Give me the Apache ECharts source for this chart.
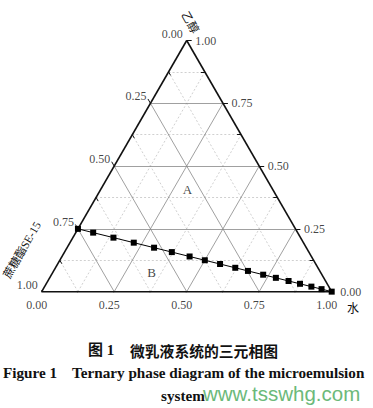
<!DOCTYPE html>
<html><head><meta charset="utf-8">
<script src="https://cdn.jsdelivr.net/npm/echarts@6/dist/echarts.min.js"></script>
<style>html,body{margin:0;padding:0;background:#fff}#c{width:373px;height:408px}</style>
</head><body><div id="c"></div>
<script>
// ---- data ----
const tickValues = [0, 0.25, 0.5, 0.75, 1];
const tickLabels = ['0.00', '0.25', '0.50', '0.75', '1.00'];
const minorValues = [0.125, 0.375, 0.625, 0.875];
// dilution line: water / ethanol / sucrose ester SE-15 mass fractions
const water      = [0, 0.06, 0.14, 0.22, 0.30, 0.37, 0.44, 0.50, 0.56, 0.62, 0.67, 0.73, 0.78, 0.83, 0.875, 0.92, 0.96, 1.0];
const ethanol    = [0.25, 0.235, 0.215, 0.195, 0.175, 0.1575, 0.14, 0.125, 0.11, 0.095, 0.0825, 0.0675, 0.055, 0.0425, 0.03125, 0.02, 0.01, 0];
const surfactant = [0.75, 0.705, 0.645, 0.585, 0.525, 0.4725, 0.42, 0.375, 0.33, 0.285, 0.2475, 0.2025, 0.165, 0.1275, 0.09375, 0.06, 0.03, 0];
const regionNames   = ['A', 'B'];
const regionWater   = [0.30, 0.34];
const regionEthanol = [0.405, 0.078];

// ---- ternary -> cartesian (water to the right, ethanol up) ----
const H = Math.sqrt(3) / 2;
const PX = 1 / 290; // data units per pixel
function tern(w, e) { return [w + e / 2, e * H]; }

const SERIF = "'Liberation Serif','Times New Roman',serif";
const CJK = "'Noto Sans CJK SC',sans-serif";

// grid lines
const gridMajor = [], gridMinor = [];
function addGrid(v, arr) {
  arr.push({ coords: [tern(v, 0), tern(v, 1 - v)] });        // const water
  arr.push({ coords: [tern(0, v), tern(1 - v, v)] });        // const ethanol
  arr.push({ coords: [tern(1 - v, 0), tern(0, 1 - v)] });    // const surfactant
}
tickValues.slice(1, -1).forEach(v => addGrid(v, gridMajor));
minorValues.forEach(v => addGrid(v, gridMinor));

// ticks
const ticks = [];
function tick(p, dx, dy, len) { ticks.push({ coords: [p, [p[0] + dx * len * PX, p[1] + dy * len * PX]] }); }
tickValues.forEach(v => {
  tick(tern(v, 0), -0.5, -H, 5);          // bottom (water), outward
  tick(tern(1 - v, v), 1, 0, 5);          // right (ethanol), outward
  tick(tern(0, 1 - v), -0.5, H, 5);       // left (surfactant), outward
});
minorValues.forEach(v => {
  tick(tern(v, 0), -0.5, -H, 4);
  tick(tern(1 - v, v), -1, 0, 4);
  tick(tern(0, 1 - v), 0.5, -H, 4);
});

const edges = [
  { coords: [tern(0, 0), tern(1, 0)], lineStyle: { width: 2.2 } },
  { coords: [tern(1, 0), tern(0, 1)] },
  { coords: [tern(0, 1), tern(0, 0)] }
];

function labelSeries(points, offset, align) {
  return {
    type: 'scatter', symbolSize: 1, itemStyle: { color: 'rgba(0,0,0,0)' }, silent: true, z: 5,
    data: points.map((p, i) => ({ value: p, name: tickLabels[i] })),
    label: { show: true, position: 'inside', offset: offset, align: align, verticalAlign: 'middle',
      formatter: p => p.name, color: '#111', fontSize: 12, fontFamily: SERIF }
  };
}

const chart = echarts.init(document.getElementById('c'), null, { renderer: 'svg' });
chart.setOption({
  animation: false,
  backgroundColor: '#fff',
  grid: { left: 41.7, top: 40.5, width: 290, height: 290 * H },
  xAxis: { type: 'value', min: 0, max: 1, show: false },
  yAxis: { type: 'value', min: 0, max: H, show: false },
  series: [
    { type: 'lines', coordinateSystem: 'cartesian2d', silent: true, z: 1, data: gridMinor,
      lineStyle: { color: '#c4c4c4', width: 0.8, type: [2, 2], opacity: 1 } },
    { type: 'lines', coordinateSystem: 'cartesian2d', silent: true, z: 2, data: gridMajor,
      lineStyle: { color: '#888', width: 0.8, type: 'solid', opacity: 1 } },
    { type: 'lines', coordinateSystem: 'cartesian2d', silent: true, z: 3, data: ticks,
      lineStyle: { color: '#111', width: 1, opacity: 1 } },
    { type: 'lines', coordinateSystem: 'cartesian2d', silent: true, z: 4, data: edges,
      lineStyle: { color: '#111', width: 1.6, opacity: 1 } },
    labelSeries(tickValues.map(v => tern(v, 0)), [-5, 13], 'center'),
    labelSeries(tickValues.map(v => tern(1 - v, v)), [8.5, 0], 'left'),
    labelSeries(tickValues.map(v => tern(0, 1 - v)), [-4, -7], 'right'),
    { type: 'scatter', symbolSize: 1, itemStyle: { color: 'rgba(0,0,0,0)' }, silent: true, z: 5,
      data: regionNames.map((n, i) => ({ value: tern(regionWater[i], regionEthanol[i]), name: n })),
      label: { show: true, position: 'inside', formatter: p => p.name, color: '#111', fontSize: 13, fontFamily: SERIF } },
    { type: 'line', z: 6, symbol: 'rect', symbolSize: 6,
      data: water.map((w, i) => tern(w, ethanol[i])),
      itemStyle: { color: '#000' }, lineStyle: { color: '#000', width: 1 } }
  ],
  graphic: [
    { type: 'text', x: 191, y: 22, rotation: -Math.PI / 3, style: { text: '乙醇', font: '11.5px ' + CJK, fill: '#111', align: 'center', verticalAlign: 'middle' } },
    { type: 'text', x: 22, y: 250, rotation: Math.PI / 3, style: { text: '蔗糖酯SE-15', font: "11.5px 'Liberation Serif','Noto Sans CJK SC',serif", fill: '#111', align: 'center', verticalAlign: 'middle' } },
    { type: 'text', x: 353, y: 307, style: { text: '水', font: '12px ' + CJK, fill: '#111', align: 'center', verticalAlign: 'middle' } },
    { type: 'text', x: 88, y: 350, style: { text: '图 1', font: "bold 15px 'Liberation Serif','Noto Sans CJK SC',serif", fill: '#111', align: 'left', verticalAlign: 'middle' } },
    { type: 'text', x: 130, y: 350, style: { text: '微乳液系统的三元相图', font: 'bold 14.8px ' + CJK, fill: '#111', align: 'left', verticalAlign: 'middle' } },
    { type: 'text', x: 3, y: 372, style: { text: 'Figure 1', font: 'bold 15.2px ' + SERIF, fill: '#111', align: 'left', verticalAlign: 'middle' } },
    { type: 'text', x: 72, y: 372, style: { text: 'Ternary phase diagram of the microemulsion', font: 'bold 15.2px ' + SERIF, fill: '#111', align: 'left', verticalAlign: 'middle' } },
    { type: 'text', x: 183, y: 395, style: { text: 'system', font: 'bold 15.2px ' + SERIF, fill: '#111', align: 'center', verticalAlign: 'middle' } },
    { type: 'text', x: 203, y: 393, style: { text: 'www.tsswhg.com', font: "20.5px 'Liberation Sans',Arial,sans-serif", fill: '#6cb97a', align: 'left', verticalAlign: 'middle' } }
  ]
});
</script>
</body></html>
